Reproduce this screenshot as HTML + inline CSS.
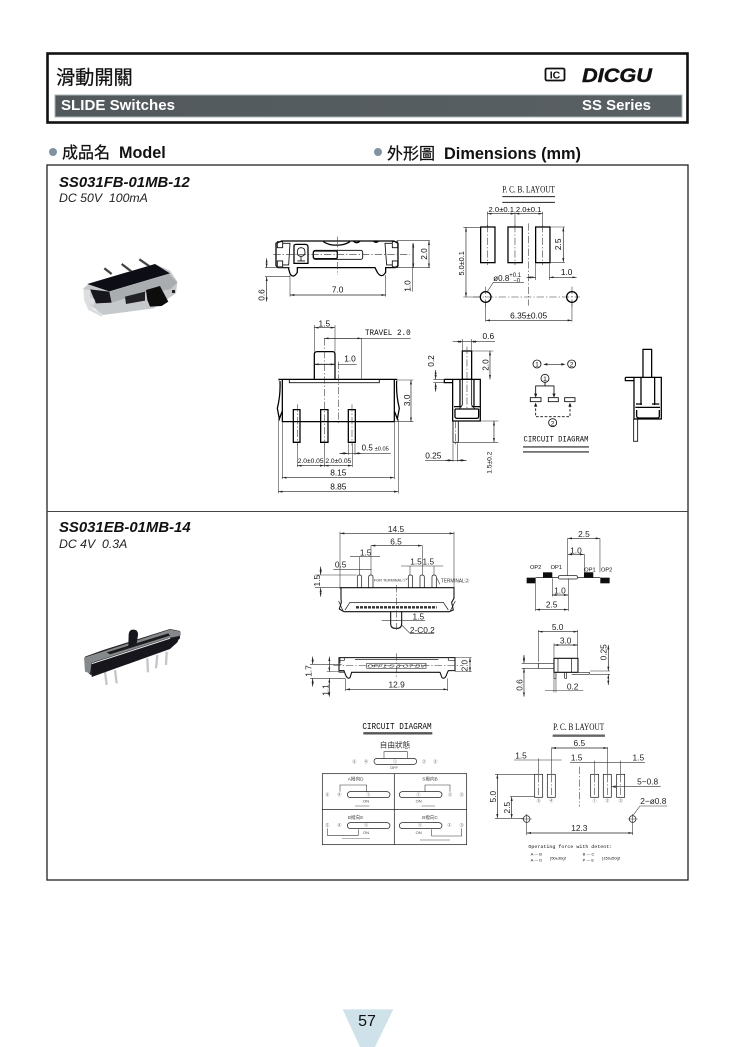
<!DOCTYPE html>
<html><head><meta charset="utf-8"><title>SLIDE Switches</title>
<style>
html,body{margin:0;padding:0;background:#fff}
svg{display:block}
text{font-family:"Liberation Sans","Noto Sans CJK TC",sans-serif}
.l{fill:none;stroke:#111;stroke-width:2.6}
.k{fill:none;stroke:#000;stroke-width:3.8}
.d{fill:none;stroke:#222;stroke-width:2;marker-start:url(#a);marker-end:url(#a)}
.e{fill:none;stroke:#333;stroke-width:1.7}
.c{fill:none;stroke:#333;stroke-width:1.7;stroke-dasharray:22 6 4 6}
.t{font-size:25px;fill:#111;text-anchor:middle}
.s{font-size:12px;fill:#444;text-anchor:middle}
.m{font-family:"Liberation Mono",monospace;fill:#111}
.r{font-family:"Liberation Serif",serif;fill:#111}
.g .l{stroke:#222;stroke-width:2.2}
.g .k{stroke:#111;stroke-width:3.2}
.g .t{fill:#222}
.h{stroke:#111;stroke-width:.25}
</style></head>
<body>
<svg width="740" height="1047" viewBox="0 0 740 1047" xmlns="http://www.w3.org/2000/svg">
<defs>
<marker id="a" markerUnits="userSpaceOnUse" markerWidth="14" markerHeight="8" refX="13" refY="4" orient="auto-start-reverse"><path d="M0,1 L13,4 L0,7Z" fill="#222"/></marker>
<filter id="b" x="-5%" y="-5%" width="110%" height="110%"><feGaussianBlur stdDeviation="0.35"/></filter>
<filter id="p" x="-5%" y="-5%" width="110%" height="110%"><feGaussianBlur stdDeviation="0.6"/></filter>
<linearGradient id="bar" x1="0" x2="1"><stop offset="0" stop-color="#52595d"/><stop offset="1" stop-color="#596064"/></linearGradient>
</defs>
<rect width="740" height="1047" fill="#fff"/>

<!-- header -->
<rect x="47.5" y="53.5" width="640" height="69" fill="#fff" stroke="#111" stroke-width="2.6"/>
<rect x="55" y="95" width="627" height="22" fill="url(#bar)" stroke="#aab2b6" stroke-width="1"/>
<text x="56" y="84" font-size="19.2" fill="#111" class="h">滑動開關</text>
<text x="61" y="110" font-size="15" font-weight="700" fill="#fff" textLength="114" lengthAdjust="spacingAndGlyphs">SLIDE Switches</text>
<text x="582" y="110" font-size="15" font-weight="700" fill="#fff" textLength="69" lengthAdjust="spacingAndGlyphs">SS Series</text>
<text x="582" y="82" font-size="19" font-weight="700" font-style="italic" fill="#111" stroke="#111" stroke-width=".4" textLength="70" lengthAdjust="spacingAndGlyphs">DICGU</text>
<rect x="545.5" y="68.5" width="19" height="12" rx="1.5" fill="#fff" stroke="#111" stroke-width="1.8"/>
<text x="555" y="78.5" font-size="10.5" font-weight="700" fill="#111" text-anchor="middle">IC</text>

<!-- section heads -->
<circle cx="53" cy="152" r="4" fill="#7f949f"/>
<text x="62" y="158" font-size="16" fill="#111" class="h">成品名</text>
<text x="119" y="158" font-size="16.2" font-weight="700" fill="#111">Model</text>
<circle cx="378" cy="152" r="4" fill="#7f949f"/>
<text x="387" y="159" font-size="16" fill="#111" class="h">外形圖</text>
<text x="444" y="159" font-size="16.3" font-weight="700" fill="#111" textLength="137" lengthAdjust="spacingAndGlyphs">Dimensions (mm)</text>

<!-- main frame -->
<rect x="47" y="165" width="641" height="715" fill="#fff" stroke="#222" stroke-width="1.3"/>
<line x1="47" y1="511.5" x2="688" y2="511.5" stroke="#444" stroke-width="1"/>

<text x="59" y="187" font-size="14.9" font-weight="700" font-style="italic" fill="#111">SS031FB-01MB-12</text>
<text x="59" y="202" font-size="12.3" font-style="italic" fill="#222" xml:space="preserve" style="white-space:pre">DC 50V  100mA</text>
<text x="59" y="532" font-size="14.9" font-weight="700" font-style="italic" fill="#111">SS031EB-01MB-14</text>
<text x="59" y="548" font-size="12.3" font-style="italic" fill="#222" xml:space="preserve" style="white-space:pre">DC 4V  0.3A</text>

<!-- photo 1 -->
<g transform="translate(70,250) scale(.3333)" filter="url(#p)">
<path d="M125,72 L103,55 M185,65 L155,42 M240,50 L208,28" stroke="#444" stroke-width="7" fill="none"/>
<path d="M40,115 L58,100 L255,42 L300,62 L322,95 L318,130 L250,175 L100,195 L60,165Z" fill="#c6c9cb"/>
<path d="M52,102 L255,42 L300,70 L118,124Z" fill="#101113"/>
<path d="M60,118 L118,125 L125,158 L78,160Z" fill="#17181a"/>
<path d="M40,118 L62,120 L60,140 L75,150 L70,168 L58,160 L72,178 L100,192 L95,200 L55,180 L42,150Z" fill="#dcdedf"/>
<path d="M120,125 L298,72 L322,98 L300,118 L215,130 L125,158Z" fill="#a9adaf"/>
<path d="M165,140 L225,125 L225,152 L168,162Z" fill="#222325"/>
<path d="M228,120 L270,108 L295,155 L275,168 L240,170 L232,150Z" fill="#0c0d0f"/>
<rect x="306" y="120" width="9" height="9" fill="#222"/>
</g>

<!-- photo 2 -->
<g transform="translate(70,615) scale(.3333)" filter="url(#p)">
<path d="M105,170 L110,210 M135,165 L140,205 M232,130 L234,172 M262,120 L258,160 M290,110 L288,150" stroke="#c4c6c8" stroke-width="7" fill="none"/>
<path d="M45,125 L100,105 L300,42 L330,48 L330,70 L300,95 L62,180 L45,165Z" fill="#27282a"/>
<path d="M42,128 L105,108 L300,44 L332,50 L332,62 L290,70 L65,143 L60,175 L45,170Z" fill="#85898c"/>
<path d="M110,112 L295,55 L300,62 L120,118Z" fill="#1a1b1c"/>
<path d="M66,146 L300,70" stroke="#e4e6e7" stroke-width="3.5" fill="none"/>
<path d="M64,148 L295,73 L330,64 L322,82 L300,102 L65,186Z" fill="#17181a"/>
<path d="M175,95 L176,58 Q178,42 192,44 Q205,46 204,60 L200,85Z" fill="#17181a"/>
</g>

<g filter="url(#b)">
<!-- upper side view & PCB -->
<g transform="translate(240,175) scale(.3333)">
<path class="k" d="M125,198 H462 L474,205 V272 L466,278 H437 V292 Q425,312 412,292 L405,278 H172 V292 Q160,312 150,296 L145,278 H114 L108,272 V205 Z"/>
<path class="l" d="M112,200 h16 v18 h-16z M112,258 h16 v18 h-16z M457,200 h16 v18 h-16z M457,258 h16 v18 h-16z M128,205 H150 L146,270 H128 M457,205 H435 L440,270 H457"/>
<path class="k" d="M162,212 Q162,208 170,208 H196 Q204,208 204,216 V265 H162Z"/>
<path class="l" d="M172,232 Q172,218 183,218 Q195,218 195,232 Q195,244 183,244 Q172,244 172,232 M183,244 V258 M172,258 H195"/>
<rect x="220" y="226" width="148" height="27" rx="6" fill="none" stroke="#222" stroke-width="3"/>
<rect x="220" y="228" width="72" height="23" rx="5" fill="none" stroke="#111" stroke-width="4"/>
<path class="k" d="M250,200 Q268,212 290,210 Q310,212 330,200 M340,198 Q350,208 360,198 M400,198 Q408,206 416,198"/>
<path class="c" d="M100,238 H510 M293,185 V300"/>
<path class="e" d="M470,197 H570 M466,278 H570 M518,205 V350 M75,278 H150 M75,305 H150 M150,300 V365 M437,300 V365"/>
<path class="d" d="M567,197 V278"/>
<path class="d" d="M520,278 V205"/>
<path class="d" d="M80,250 V278"/><path class="d" d="M80,380 V305"/>
<path class="d" d="M150,360 H437"/>
<text class="t" transform="translate(561,237) rotate(-90)">2.0</text>
<text class="t" transform="translate(512,333) rotate(-90)">1.0</text>
<text class="t" transform="translate(74,360) rotate(-90)">0.6</text>
<text class="t" x="293" y="352">7.0</text>

<text x="866" y="52" class="r" font-size="27" text-anchor="middle" textLength="158" lengthAdjust="spacingAndGlyphs">P. C. B. LAYOUT</text>
<path d="M787,65 H945 M787,82 H945" stroke="#222" stroke-width="3"/>
<text x="784" y="111" class="t" style="font-size:23px">2.0±0.1</text>
<text x="866" y="111" class="t" style="font-size:23px">2.0±0.1</text>
<path class="e" d="M742,110 V155 M825,110 V155 M908,110 V155"/>
<path class="d" d="M742,116 H825"/><path class="d" d="M825,116 H908"/>
<rect class="k" x="722" y="156" width="43" height="107"/>
<rect class="k" x="804" y="156" width="43" height="107"/>
<rect class="k" x="887" y="156" width="43" height="107"/>
<path class="c" d="M743,150 V270 M825,150 V270 M908,150 V270 M866,145 V392 M700,366 H1020 M737,335 V395 M996,335 V395"/>
<path class="e" d="M670,157 H722 M670,366 H720 M930,156 H975 M930,262 H975 M887,265 V315 M928,265 V315"/>
<path class="d" d="M678,157 V366"/>
<path class="d" d="M970,156 V262"/>
<path class="d" d="M860,307 H887"/><path class="d" d="M1010,307 H928"/>
<circle class="k" cx="737" cy="366" r="16"/><circle class="k" cx="996" cy="366" r="16"/>
<path class="e" d="M742,350 L760,322 H852"/>
<path class="e" d="M737,385 V440 M996,385 V440"/>
<path class="d" d="M737,436 H996"/>
<text class="t" transform="translate(672,265) rotate(-90)" style="font-size:22px">5.0±0.1</text>
<text class="t" transform="translate(963,208) rotate(-90)">2.5</text>
<text x="760" y="318" font-size="24" fill="#111">ø0.8</text>
<text x="808" y="306" font-size="18" fill="#111">+0.1</text>
<text x="820" y="322" font-size="18" fill="#111">−0</text>
<text class="t" x="980" y="300">1.0</text>
<text class="t" x="866" y="430">6.35±0.05</text>
</g>

<!-- front view & side view -->
<g transform="translate(260,315) scale(.3333)">
<path class="k" d="M57,196 V193 H410 V196 M67,193 V320 H403 V193 M163,193 V118 Q163,110 172,110 H218 Q225,110 225,118 V193"/>
<path class="l" d="M88,193 V203 H358 V193 M163,148 H225"/>
<path class="k" d="M60,198 Q62,240 52,280 L58,312 L66,290 M410,198 Q408,240 418,280 L412,312 L404,290"/>
<path class="k" d="M100,284 H120 V382 H100 Z M182,284 H204 V382 H182Z M265,284 H286 V382 H265Z"/>
<path class="c" d="M112,268 V392 M193,70 V392 M276,268 V392 M235,140 V330"/>
<path class="e" d="M163,30 V110 M225,30 V110 M305,70 V193 M193,70 H452 M410,195 H460 M403,320 H460 M265,385 V420 M285,385 V420 M112,385 V456 M193,385 V456 M277,385 V456 M67,322 V492 M403,322 V492 M55,312 V535 M415,312 V535"/>
<path class="d" d="M163,38 H225"/>
<path class="d" d="M193,70 H305"/>
<path class="d" d="M163,148 H225"/><path class="e" d="M235,148 H290"/>
<path class="d" d="M453,195 V320"/>
<path class="e" d="M238,415 H392"/><path class="d" d="M265,415 H240"/><path class="d" d="M285,415 H305"/>
<path class="d" d="M112,452 H193"/><path class="d" d="M193,452 H277"/>
<path class="d" d="M67,488 H403"/><path class="d" d="M55,530 H415"/>
<text class="t" x="193" y="35">1.5</text>
<text x="315" y="60" class="m" font-size="24" textLength="137" lengthAdjust="spacingAndGlyphs">TRAVEL 2.0</text>
<text class="t" x="270" y="140">1.0</text>
<text class="t" transform="translate(450,256) rotate(-90)">3.0</text>
<text x="305" y="407" font-size="24" fill="#111">0.5</text><text x="344" y="406" font-size="17" fill="#111">±0.05</text>
<text x="152" y="444" text-anchor="middle" font-size="20" fill="#111">2.0±0.05</text>
<text x="235" y="444" text-anchor="middle" font-size="20" fill="#111">2.0±0.05</text>
<text class="t" x="235" y="482">8.15</text>
<text class="t" x="235" y="524">8.85</text>

<rect class="k" x="607" y="108" width="28" height="85"/>
<path class="k" d="M553,193 H661 V318 H578 V193 M553,193 V203 H578 M600,195 V275 M642,195 V275 M582,275 H605 M635,275 H660 M585,282 V305 Q585,310 592,310 H650 Q656,310 656,304 V282 M585,282 H656"/>
<path class="l" d="M607,195 V270 L597,282 M635,195 V270 L645,282 M595,318 V382 H579 V318"/>
<path class="c" d="M621,95 V285 M586,318 V395"/>
<path class="e" d="M607,72 V108 M635,72 V108 M635,108 H700 M520,193 H553 M520,203 H553 M661,318 H715 M595,382 H715 M579,385 V440 M593,385 V440"/>
<path class="e" d="M578,80 H705"/><path class="d" d="M590,80 H607"/><path class="d" d="M652,80 H635"/>
<path class="d" d="M527,165 V193"/><path class="d" d="M527,230 V203"/>
<path class="d" d="M690,108 V193"/>
<path class="d" d="M702,318 V382"/>
<path class="e" d="M495,436 H620"/><path class="d" d="M555,436 H579"/><path class="d" d="M618,436 H593"/>
<text class="t" x="685" y="72">0.6</text>
<text class="t" transform="translate(522,138) rotate(-90)">0.2</text>
<text class="t" transform="translate(686,150) rotate(-90)">2.0</text>
<text class="t" transform="translate(695,443) rotate(-90)" style="font-size:20px">1.5±0.2</text>
<text class="t" x="520" y="430">0.25</text>
</g>

<!-- circuit + third view -->
<g transform="translate(490,330) scale(.3333)">
<circle class="l" cx="141" cy="102" r="12"/><text class="t" x="141" y="110" style="font-size:20px">1</text>
<circle class="l" cx="245" cy="102" r="12"/><text class="t" x="245" y="110" style="font-size:20px">2</text>
<path class="d" d="M162,103 H224" style="marker-start:none;marker-end:none"/>
<path d="M160,103 l12,-4 v8z M226,103 l-12,-4 v8z" fill="#222"/>
<circle class="l" cx="165" cy="145" r="12"/><text class="t" x="165" y="153" style="font-size:20px">1</text>
<path class="l" d="M165,157 V168 M137,200 V168 H192 V200"/>
<path d="M137,203 l-5,-12 h10z M192,203 l-5,-12 h10z M137,218 l-5,12 h10z M240,218 l-5,12 h10z" fill="#222"/>
<rect class="l" x="121" y="203" width="32" height="12"/><rect class="l" x="175" y="203" width="30" height="12"/><rect class="l" x="224" y="203" width="31" height="12"/>
<path class="l" stroke-dasharray="8 5" d="M137,222 V260 H240 V222"/>
<circle class="l" cx="188" cy="278" r="12"/><text class="t" x="188" y="286" style="font-size:20px">2</text>
<text x="198" y="335" class="m" font-size="25" text-anchor="middle" textLength="195" lengthAdjust="spacingAndGlyphs">CIRCUIT DIAGRAM</text>
<path d="M99,351 H297 M99,366 H297" stroke="#222" stroke-width="3.4"/>
<path class="k" d="M459,142 V58 H485 V142 M406,142 H514 V267 H432 V142 M406,142 V152 H432 M453,144 V225 M494,144 V225 M436,232 H510 M440,240 V258 Q440,264 448,264 H502 Q508,264 508,258 V240"/>
<path class="k" stroke-width="5" d="M438,222 H456 M486,222 H508"/>
<path class="l" d="M431,267 V334 H443 V267"/>
</g>
</g>

<g filter="url(#b)" class="g">
<!-- lower front -->
<g transform="translate(300,515) scale(.3333)">
<path class="e" d="M120,50 V222 M462,50 V222 M213,92 V180 M367,92 V180 M178,125 V180 M330,153 V180 M402,153 V180 M45,180 H170 M45,218 H125"/>
<path class="d" d="M120,55 H462"/><path class="d" d="M213,92 H367"/>
<path class="e" d="M150,125 H240 M100,163 H215 M303,153 H430"/>
<path class="d" d="M62,155 V180"/><path class="d" d="M62,245 V218"/>
<text class="t" x="288" y="51">14.5</text><text class="t" x="288" y="89">6.5</text>
<text class="t" x="197" y="121">1.5</text><text class="t" x="122" y="158">0.5</text>
<text class="t" x="348" y="148">1.5</text><text class="t" x="385" y="148">1.5</text>
<text class="t" transform="translate(60,197) rotate(-90)">1.5</text>
<path class="l" d="M172,218 V186 Q172,180 178,180 Q185,180 185,186 V218 M206,218 V186 Q206,180 212,180 Q219,180 219,186 V218 M325,218 V186 Q325,180 331,180 Q338,180 338,186 V218 M360,218 V186 Q360,180 366,180 Q373,180 373,186 V218 M396,218 V186 Q396,180 402,180 Q409,180 409,186 V218"/>
<text x="222" y="200" font-size="11" fill="#333" textLength="96" lengthAdjust="spacingAndGlyphs">FOR TERMINAL①</text>
<text x="423" y="202" font-size="16" fill="#333" textLength="85" lengthAdjust="spacingAndGlyphs">TERMINAL②</text>
<path class="e" d="M318,195 L322,190 M420,208 L411,190"/>
<path class="k" d="M123,218 H462 V250 L455,262 L460,285 L448,290 H132 L118,282 L124,262 L123,250 Z"/>
<path class="l" d="M135,285 L150,262 H430 L445,285 M116,258 L130,290 M466,258 L450,290"/>
<path stroke="#333" stroke-width="7" stroke-dasharray="9 3" fill="none" d="M168,277 H410"/>
<path class="k" d="M272,290 V325 Q272,340 285,340 H292 Q305,340 305,325 V290"/>
<path class="c" d="M289,210 V345"/>
<path class="e" d="M245,317 H375 M305,330 L330,355 H402"/>
<text class="t" x="355" y="313">1.5</text>
<text class="t" x="367" y="354">2-C0.2</text>

<path class="e" d="M803,70 V182 M900,70 V172 M853,118 V172 M707,205 V288 M805,190 V288 M757,190 V244"/>
<path class="d" d="M803,70 H900"/><path class="d" d="M803,118 H853"/><path class="d" d="M757,240 H805"/><path class="d" d="M707,284 H805"/>
<rect x="680" y="188" width="27" height="17" fill="#111"/><rect x="729" y="172" width="28" height="17" fill="#111"/><rect x="852" y="172" width="28" height="17" fill="#111"/><rect x="901" y="188" width="28" height="17" fill="#111"/>
<path class="l" d="M707,187 H775 M833,187 H901"/>
<rect class="l" x="775" y="182" width="58" height="10" rx="5"/>
<g class="m" font-size="17"><text x="690" y="162">OP2</text><text x="752" y="162">OP1</text><text x="853" y="169">OP1</text><text x="903" y="169">OP2</text></g>
<text class="t" x="852" y="66">2.5</text><text class="t" x="828" y="115">1.0</text><text class="t" x="780" y="236">1.0</text><text class="t" x="755" y="278">2.5</text>

<path class="k" d="M117,428 H465 V467 H445 L440,478 Q435,494 426,488 L420,472 H155 L150,488 Q142,494 136,478 L132,467 H117 Z"/>
<path class="l" d="M117,436 H133 V428 M465,436 H445 V428 M117,467 V472 H135 M165,434 H415 M120,445 V428"/>
<rect x="200" y="445" width="178" height="15" fill="none" stroke="#444" stroke-width="2"/>
<text x="202" y="458" font-size="15" font-style="italic" fill="#333" textLength="174" lengthAdjust="spacingAndGlyphs">OFF1  S  3  O7  BV</text>
<path class="c" d="M100,452 H490 M289,415 V490"/>
<path class="e" d="M465,428 H515 M465,470 H515 M30,448 H125 M30,490 H135 M80,470 H135 M137,490 V528 M443,490 V528"/>
<path class="d" d="M510,428 V470"/><path class="d" d="M38,425 V448"/><path class="d" d="M38,515 V490"/>
<path class="d" d="M88,425 V470"/><path class="d" d="M88,545 V490"/>
<path class="d" d="M137,523 H443"/>
<text class="t" transform="translate(502,452) rotate(-90)">2.0</text>
<text class="t" transform="translate(35,468) rotate(-90)">1.7</text>
<text class="t" transform="translate(85,525) rotate(-90)">1.1</text>
<text class="t" x="290" y="518">12.9</text>

<path class="e" d="M715,345 V440 M833,345 V428 M762,385 V428"/>
<path class="d" d="M715,350 H833"/><path class="d" d="M762,390 H833"/>
<path class="k" d="M762,430 H834 V472 H762 Z"/>
<path class="l" d="M774,430 V472 M815,430 V472 M762,445 H715 V460 H762 M834,472 H868 V478 H815 M762,472 V490 H768 V472 M800,472 V490 H794 V472"/>
<path class="e" d="M870,468 H930 M870,478 H930 M665,445 H715 M665,460 H715 M762,490 V532 M768,490 V532"/>
<path class="d" d="M925,390 V468"/><path class="d" d="M925,510 V478"/>
<path class="d" d="M672,420 V445"/><path class="d" d="M672,545 V460"/>
<path class="e" d="M735,527 H850"/>
<text class="t" x="773" y="345">5.0</text><text class="t" x="797" y="386">3.0</text><text class="t" x="818" y="524">0.2</text>
<text class="t" transform="translate(920,412) rotate(-90)">0.25</text>
<text class="t" transform="translate(667,510) rotate(-90)">0.6</text>
</g>

<!-- lower circuit -->
<g transform="translate(310,710) scale(.3333)">
<text x="261" y="57" class="m" font-size="27" text-anchor="middle" textLength="208" lengthAdjust="spacingAndGlyphs" fill="#222">CIRCUIT DIAGRAM</text>
<path d="M160,70 H367" stroke="#555" stroke-width="7"/>
<text x="255" y="113" font-size="23" fill="#333" text-anchor="middle">自由狀態</text>
<rect class="l" x="192" y="145" width="128" height="18" rx="9"/>
<path class="e" d="M222,145 V125 H292 V145"/>
<g class="s"><text x="133" y="159">⑤</text><text x="168" y="159">④</text><text x="342" y="159">②</text><text x="376" y="159">③</text><text x="255" y="159">①</text><text x="252" y="177">OFF</text></g>
<rect class="l" x="37" y="191" width="433" height="213"/>
<path class="l" d="M253,191 V404 M37,299 H470"/>
<rect class="l" x="112" y="245" width="128" height="18" rx="9"/>
<rect class="l" x="268" y="245" width="128" height="18" rx="9"/>
<rect class="l" x="112" y="338" width="128" height="18" rx="9"/>
<rect class="l" x="268" y="338" width="128" height="18" rx="9"/>
<path class="e" d="M90,245 V225 H170 V245 M345,245 V225 H420 V245 M52,355 V376 H145 V358 M365,358 V378 H455 V355"/>
<g class="s"><text x="137" y="212" style="font-size:14px">A撥向D</text><text x="360" y="212" style="font-size:14px">S撥向B</text><text x="137" y="327" style="font-size:14px">B撥向E</text><text x="360" y="327" style="font-size:14px">B撥向C</text>
<text x="52" y="258">⑤</text><text x="88" y="258">④</text><text x="175" y="258">①</text><text x="168" y="277">ON</text>
<text x="325" y="258">①</text><text x="420" y="258">②</text><text x="455" y="258">③</text><text x="326" y="277">ON</text>
<text x="52" y="350">⑤</text><text x="88" y="350">④</text><text x="168" y="350">①</text><text x="168" y="372">ON</text>
<text x="330" y="350">①</text><text x="418" y="350">②</text><text x="455" y="350">③</text><text x="326" y="372">ON</text></g>
<path d="M135,288 H178 M335,288 H375 M95,386 H180 M330,390 H420" stroke="#888" stroke-width="2"/>
</g>

<!-- lower pcb -->
<g transform="translate(490,710) scale(.3333)">
<text x="266" y="60" class="r" font-size="27" text-anchor="middle" textLength="153" lengthAdjust="spacingAndGlyphs" fill="#222">P. C. B LAYOUT</text>
<path d="M188,77 H345" stroke="#666" stroke-width="7"/>
<path class="e" d="M185,112 V192 M353,112 V192 M146,145 V192 M313,152 V192 M392,152 V192 M72,150 H215 M240,157 H465"/>
<path class="d" d="M185,114 H353"/>
<text class="t" x="268" y="108">6.5</text><text class="t" x="93" y="145">1.5</text><text class="t" x="260" y="151">1.5</text><text class="t" x="445" y="151">1.5</text>
<g class="l"><rect x="134" y="193" width="24" height="69"/><rect x="172" y="193" width="24" height="69"/><rect x="302" y="193" width="24" height="69"/><rect x="340" y="193" width="24" height="69"/><rect x="380" y="193" width="24" height="69"/></g>
<path class="c" d="M268,170 V290 M146,195 V260 M184,195 V260 M314,195 V260 M352,195 V260 M392,195 V260"/>
<g class="s"><text x="146" y="276">⑤</text><text x="184" y="276">④</text><text x="314" y="276">①</text><text x="352" y="276">②</text><text x="392" y="276">③</text></g>
<path class="e" d="M365,230 H512 M15,193 H134 M15,325 H100 M60,260 H134 M58,325 H100 M430,315 L450,288 H532"/>
<path d="M365,230 l12,-4 v8z" fill="#333"/>
<path class="d" d="M22,193 V325"/><path class="d" d="M65,260 V325"/>
<circle class="l" cx="110" cy="327" r="10"/><circle class="l" cx="428" cy="327" r="10"/>
<path class="e" d="M95,327 H125 M110,312 V375 M413,327 H443 M428,312 V375"/>
<path class="d" d="M110,369 H428"/>
<text class="t" x="268" y="363">12.3</text>
<text class="t" x="473" y="224">5−0.8</text>
<text class="t" x="490" y="282">2−ø0.8</text>
<text class="t" transform="translate(18,260) rotate(-90)">5.0</text>
<text class="t" transform="translate(60,293) rotate(-90)">2.5</text>
<text x="115" y="414" class="m" font-size="15" fill="#333" textLength="252" lengthAdjust="spacingAndGlyphs">Operating force with detent:</text>
<g class="m" font-size="12" fill="#333"><text x="122" y="436">A --- B</text><text x="122" y="455">A --- D</text><text x="180" y="449">}50±30gf</text><text x="278" y="436">B --- C</text><text x="278" y="455">P --- E</text><text x="336" y="449">}150±50gf</text></g>
</g>
</g>

<!-- page number -->
<g transform="translate(330,1000) scale(.3333)">
<polygon points="38,28 190,28 135,141 90,141" fill="#cfe2ea"/>
</g>
<text x="367" y="1026" font-size="16" fill="#111" text-anchor="middle">57</text>
</svg>
</body></html>
